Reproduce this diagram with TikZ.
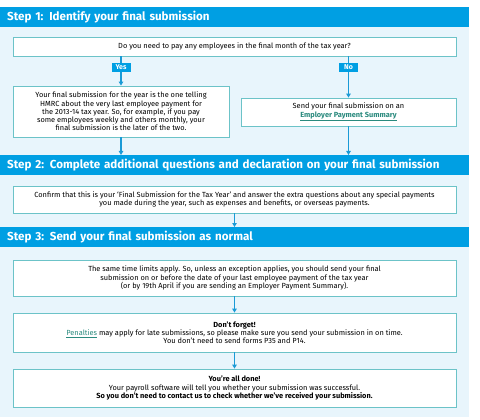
\documentclass[tikz,border=0pt]{standalone}
\usepackage{fontspec}
\setmainfont{Fira Sans}
\usetikzlibrary{arrows.meta}
\definecolor{hdrblue}{HTML}{009FE3}
\definecolor{panel}{HTML}{E8F5FC}
\definecolor{boxline}{HTML}{6CC3C8}
\definecolor{arrblue}{HTML}{1A9AD6}
\definecolor{linkteal}{HTML}{2A8A7E}
\tikzset{
  panelbg/.style={fill=panel, draw=none},
  header/.style={fill=hdrblue, text=white, anchor=north west, minimum width=469pt, minimum height=20pt,
    text width=455pt, align=left, inner xsep=7pt, inner ysep=0pt, font=\fontsize{11.6}{13}\selectfont\bfseries},
  infobox/.style={draw=boxline, line width=0.8pt, fill=white, align=center, inner sep=2pt,
    font=\fontsize{7.4}{8.2}\selectfont},
  tag/.style={fill=hdrblue, text=white, minimum width=19pt, minimum height=9pt, inner sep=0pt,
    font=\fontsize{7}{7}\selectfont\bfseries},
  arr/.style={draw=arrblue, line width=1.1pt, -{Triangle[length=4pt,width=4.5pt]}},
  ln/.style={draw=arrblue, line width=1.1pt},
}
\newcommand{\lnk}[1]{\textcolor{linkteal}{\underline{#1}}}
\begin{document}
\begin{tikzpicture}[x=1pt,y=-1pt]
\useasboundingbox[fill=white] (0,0) rectangle (480,420);
\fill[panel] (0,7) rectangle (469,417);
\node[header] (h1) at (0,7) {Step 1: Identify your final submission};
\node[header] (h2) at (0,155) {Step 2: Complete additional questions and declaration on your final submission};
\node[header] (h3) at (0,227) {Step 3: Send your final submission as normal};

\node[infobox, minimum width=443pt, minimum height=19pt] (q) at (234.5,46.5)
  {Do you need to pay any employees in the final month of the tax year?};
\node[tag] (yes) at (121,67.5) {Yes};
\node[tag] (no) at (348.5,67.5) {No};
\node[infobox, minimum width=216pt, minimum height=51pt] (left) at (121,111.5)
  {Your final submission for the year is the one telling\\
   HMRC about the very last employee payment for\\
   the 2013-14 tax year. So, for example, if you pay\\
   some employees weekly and others monthly, your\\
   final submission is the later of the two.};
\node[infobox, minimum width=215pt, minimum height=28pt] (right) at (348.5,112)
  {Send your final submission on an\\ \textbf{\lnk{Employer Payment Summary}}};
\node[infobox, minimum width=443pt, minimum height=27pt] (conf) at (234.5,199.5)
  {Confirm that this is your `Final Submission for the Tax Year' and answer the extra questions about any special payments\\
   you made during the year, such as expenses and benefits, or overseas payments.};
\node[infobox, minimum width=443pt, minimum height=36pt] (s3a) at (234.5,278)
  {The same time limits apply. So, unless an exception applies, you should send your final\\
   submission on or before the date of your last employee payment of the tax year\\
   (or by 19th April if you are sending an Employer Payment Summary).};
\node[infobox, minimum width=443pt, minimum height=39pt] (s3b) at (234.5,332.5)
  {\textbf{Don't forget!}\\
   \lnk{Penalties} may apply for late submissions, so please make sure you send your submission in on time.\\
   You don't need to send forms P35 and P14.};
\node[infobox, minimum width=443pt, minimum height=38pt] (s3c) at (234.5,388)
  {\textbf{You're all done!}\\
   Your payroll software will tell you whether your submission was successful.\\
   \textbf{So you don't need to contact us to check whether we've received your submission.}};

\draw[ln] (q.south -| yes.north) -- (yes.north);
\draw[arr] (yes.south) -- (left.north);
\draw[ln] (q.south -| no.north) -- (no.north);
\draw[arr] (no.south) -- (right.north);
\draw[arr] (left.south) -- (left.south |- h2.north);
\draw[arr] (right.south) -- (right.south |- h2.north);
\draw[arr] (conf.south) -- (conf.south |- h3.north);
\draw[arr] (s3a.south) -- (s3b.north);
\draw[arr] (s3b.south) -- (s3c.north);
\end{tikzpicture}
\end{document}
